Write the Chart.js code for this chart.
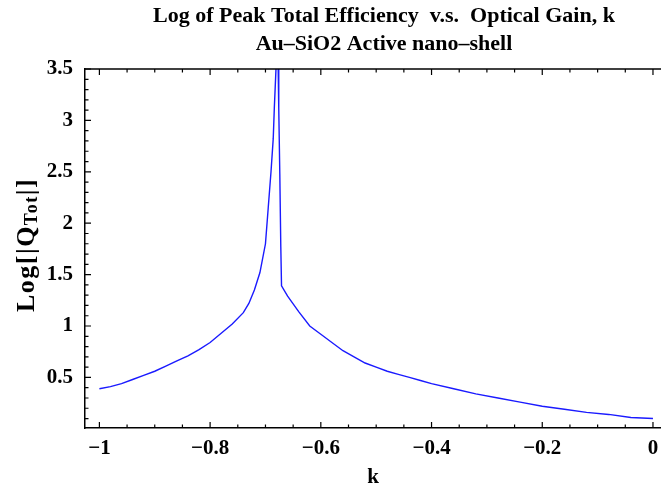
<!DOCTYPE html>
<html>
<head>
<meta charset="utf-8">
<script src="https://cdn.jsdelivr.net/npm/chart.js@4/dist/chart.umd.min.js"></script>
<style>
html, body { margin: 0; padding: 0; background: #fff; }
#wrap { width: 661px; height: 490px; overflow: hidden; }
</style>
</head>
<body>
<div id="wrap"><canvas id="chart" width="661" height="490"></canvas></div>
<script>
// values
let titleLines = ["Log of Peak Total Efficiency  v.s.  Optical Gain, k", "Au\u2013SiO2 Active nano\u2013shell"];
let xTitle = "k";

let kValues = [
    -1.00, -0.98, -0.96, -0.94, -0.92, -0.90, -0.88, -0.86, -0.84, -0.82,
    -0.80, -0.78, -0.76, -0.74, -0.73, -0.72, -0.71, -0.70, -0.695, -0.69,
    -0.686, -0.684, -0.681, -0.679, -0.677, -0.676, -0.6741, -0.6723, -0.671, -0.66,
    -0.64, -0.62, -0.60, -0.58, -0.56, -0.54, -0.52, -0.50, -0.48, -0.46,
    -0.44, -0.42, -0.40, -0.36, -0.32, -0.28, -0.24, -0.20, -0.16, -0.12,
    -0.08, -0.04, 0.00
];
let logQ = [
    0.39, 0.41, 0.44, 0.48, 0.52, 0.56, 0.61, 0.66, 0.71, 0.77,
    0.84, 0.93, 1.02, 1.13, 1.22, 1.35, 1.52, 1.80, 2.15, 2.50,
    2.82, 3.12, 3.50, 4.20, 3.50, 3.12, 2.48, 1.77, 1.39, 1.29,
    1.14, 1.00, 0.92, 0.84, 0.76, 0.70, 0.64, 0.60, 0.56, 0.53,
    0.50, 0.47, 0.44, 0.39, 0.34, 0.30, 0.26, 0.22, 0.19, 0.16,
    0.14, 0.11, 0.10
];

let xMajorTicks = [-1, -0.8, -0.6, -0.4, -0.2, 0];
let xMinorTicks = [-0.95, -0.9, -0.85, -0.75, -0.7, -0.65, -0.55, -0.5, -0.45,
    -0.35, -0.3, -0.25, -0.15, -0.1, -0.05];
let yMajorTicks = [0.5, 1, 1.5, 2, 2.5, 3, 3.5];
let yMinorTicks = [0.1, 0.2, 0.3, 0.4, 0.6, 0.7, 0.8, 0.9, 1.1, 1.2, 1.3, 1.4,
    1.6, 1.7, 1.8, 1.9, 2.1, 2.2, 2.3, 2.4, 2.6, 2.7, 2.8, 2.9, 3.1, 3.2, 3.3, 3.4];

let serif = '"Liberation Serif", "Times New Roman", serif';

function fmt(v) {
    if (v === 0) return "0";
    return v < 0 ? "\u2212" + Math.abs(v) : String(v);
}

// frame top line, inward tick marks, titles
let framePlugin = {
    id: 'frame',
    afterDraw(chart) {
        let ctx = chart.ctx;
        let area = chart.chartArea;
        let xs = chart.scales.x, ys = chart.scales.y;
        ctx.save();
        ctx.strokeStyle = '#000';
        ctx.lineWidth = 1.5;
        ctx.beginPath();
        ctx.moveTo(area.left, area.top);
        ctx.lineTo(area.right, area.top);
        ctx.stroke();

        ctx.lineWidth = 1.2;
        ctx.beginPath();
        xMajorTicks.concat(xMinorTicks).forEach(v => {
            let len = xMajorTicks.includes(v) ? 6 : 3.5;
            let px = xs.getPixelForValue(v);
            ctx.moveTo(px, area.bottom); ctx.lineTo(px, area.bottom - len);
            ctx.moveTo(px, area.top); ctx.lineTo(px, area.top + len);
        });
        yMajorTicks.concat(yMinorTicks).forEach(v => {
            let len = yMajorTicks.includes(v) ? 6 : 3.5;
            let py = ys.getPixelForValue(v);
            ctx.moveTo(area.left, py); ctx.lineTo(area.left + len, py);
        });
        ctx.stroke();

        // chart title
        ctx.fillStyle = '#000';
        ctx.textAlign = 'center';
        ctx.textBaseline = 'middle';
        ctx.font = 'bold 22px ' + serif;
        ctx.fillText(titleLines[0], 384, 16);
        ctx.fillText(titleLines[1], 384, 44);

        // y axis title with subscript
        ctx.translate(27, 245);
        ctx.rotate(-Math.PI / 2);
        ctx.letterSpacing = '1.5px';
        let big = 'bold 26px ' + serif, small = 'bold 18px ' + serif;
        ctx.font = big;
        let w1 = ctx.measureText("Log[|Q").width;
        let w3 = ctx.measureText("|]").width;
        ctx.font = small;
        let w2 = ctx.measureText("Tot").width;
        let x0 = -(w1 + w2 + w3) / 2;
        ctx.textAlign = 'left';
        ctx.font = big;
        ctx.fillText("Log[|Q", x0, 0);
        ctx.font = small;
        ctx.fillText("Tot", x0 + w1, 5);
        ctx.font = big;
        ctx.fillText("|]", x0 + w1 + w2, 0);
        ctx.restore();
    }
};

new Chart(document.getElementById('chart'), {
    type: 'line',
    data: {
        datasets: [{
            data: kValues.map((k, i) => ({x: k, y: logQ[i]})),
            borderColor: '#1a1aff',
            borderWidth: 1.4,
            pointRadius: 0,
            tension: 0,
            fill: false
        }]
    },
    options: {
        responsive: false,
        animation: false,
        devicePixelRatio: 1,
        layout: { padding: { top: 69, right: 0, left: 0, bottom: 0 } },
        plugins: { legend: { display: false }, tooltip: { enabled: false } },
        scales: {
            x: {
                type: 'linear',
                min: -1.026,
                max: 0.0145,
                grid: { display: false },
                border: { display: true, color: '#000', width: 1.5 },
                ticks: {
                    color: '#000',
                    padding: 0,
                    maxRotation: 0,
                    font: { family: serif, size: 21, weight: 'bold' },
                    callback: v => fmt(v)
                },
                afterBuildTicks: s => { s.ticks = xMajorTicks.map(v => ({value: v})); },
                afterFit: s => { s.height = 62; },
                title: {
                    display: true,
                    text: xTitle,
                    color: '#000',
                    padding: 0,
                    font: { family: serif, size: 21, weight: 'bold' }
                }
            },
            y: {
                type: 'linear',
                min: 0.008,
                max: 3.5,
                grid: { display: false },
                border: { display: true, color: '#000', width: 1.5 },
                ticks: {
                    color: '#000',
                    padding: 4,
                    font: { family: serif, size: 21, weight: 'bold' },
                    callback: v => String(v)
                },
                afterBuildTicks: s => { s.ticks = yMajorTicks.map(v => ({value: v})); },
                afterFit: s => { s.width = 85; }
            }
        }
    },
    plugins: [framePlugin]
});
</script>
</body>
</html>
